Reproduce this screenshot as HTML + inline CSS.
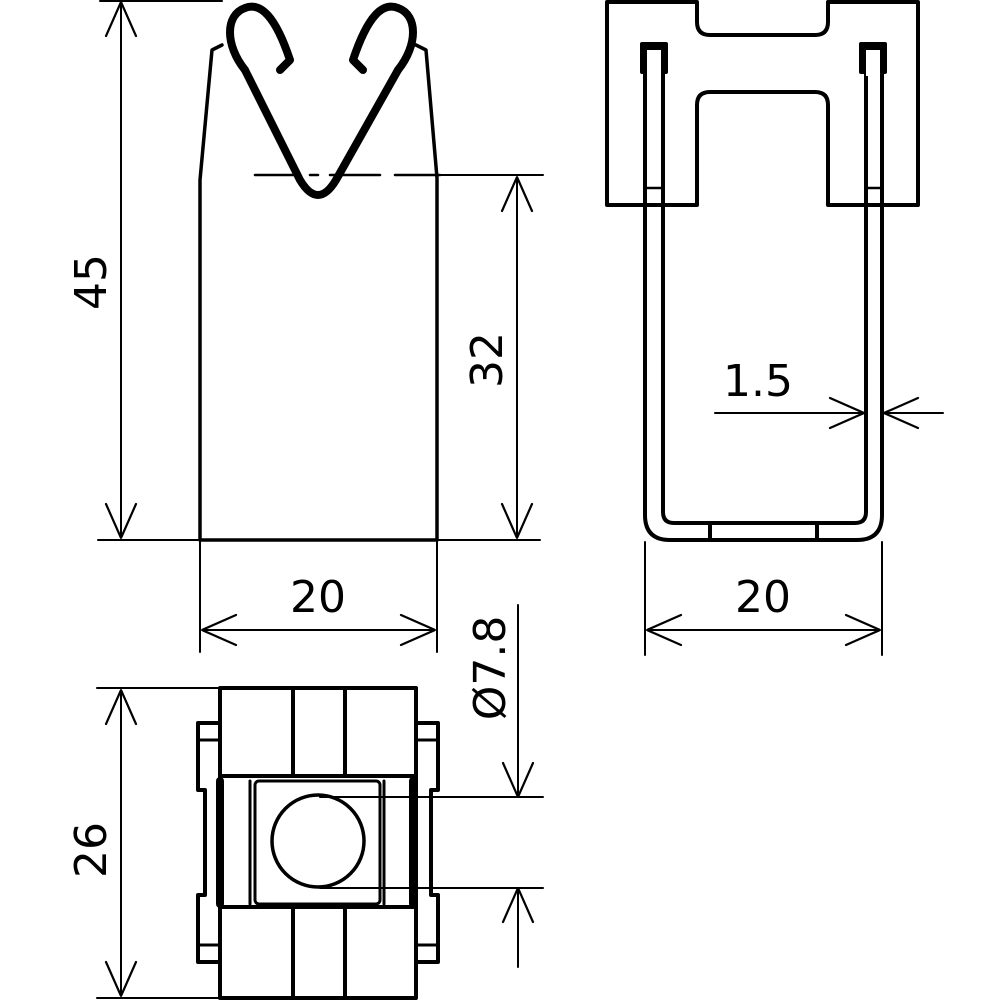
<!DOCTYPE html>
<html><head><meta charset="utf-8"><style>html,body{margin:0;padding:0;background:#fff}svg{display:block}</style></head>
<body>
<svg width="1000" height="1000" viewBox="0 0 1000 1000" xmlns="http://www.w3.org/2000/svg" fill="none" stroke="#000" stroke-linecap="round" stroke-linejoin="round">
<defs>
<marker id="a" viewBox="-36 0 36 36" refX="0" refY="18" markerWidth="36" markerHeight="36" markerUnits="userSpaceOnUse" orient="auto-start-reverse">
<path d="M-34 3 L0 18 L-34 33" stroke="#000" stroke-width="2.2" fill="none"/>
</marker>
</defs>

<g stroke-width="3.5">
<path d="M200 540 L200 180 L212 50 L222 45"/>
<path d="M437 540 L437 178 L426 50 L416 45"/>
<path d="M200 540 L437 540"/>
</g>
<g stroke-width="8">
<path d="M245 70 C225 45 225 15 245 8 C260 2 275 15 290 60 L280 70"/>
<path d="M398 70 C418 45 418 15 398 8 C383 2 368 15 353 60 L363 70"/>
<path d="M245 70 L300 180 Q318 210 336 180 L398 70"/>
</g>
<path d="M255 175 L298 175 M310 175 L318 175 M330 175 L380 175 M395 175 L440 175" stroke-width="2.5"/>

<g stroke-width="2">
<path d="M100 1 L222 1"/>
<path d="M98 540 L540 540"/>
<path d="M121 2 L121 538" marker-start="url(#a)" marker-end="url(#a)"/>
<path d="M397 175 L543 175"/>
<path d="M517 177 L517 538" marker-start="url(#a)" marker-end="url(#a)"/>
<path d="M200 542 L200 652 M437 542 L437 652"/>
<path d="M202 630 L435 630" marker-start="url(#a)" marker-end="url(#a)"/>
</g>

<g stroke-width="4">
<path d="M607 205 L607 2 L697 2 L697 22 Q697 35 710 35 L815 35 Q828 35 828 22 L828 2 L918 2 L918 205 L828 205 L828 105 Q828 92 815 92 L710 92 Q697 92 697 105 L697 205 Z"/>
<path d="M645 50 L645 515 Q645 540 670 540 L857 540 Q882 540 882 515 L882 50"/>
<path d="M663 50 L663 512 Q663 523 674 523 L855 523 Q866 523 866 512 L866 50"/>
<path d="M710 523 L710 540 M817 523 L817 540"/>
<rect x="640" y="42" width="28" height="32" rx="2" fill="#000" stroke="none"/>
<rect x="647" y="50" width="14" height="26" fill="#fff" stroke="none"/>
<rect x="859" y="42" width="28" height="32" rx="2" fill="#000" stroke="none"/>
<rect x="866" y="50" width="14" height="26" fill="#fff" stroke="none"/>
<path d="M645 188 L663 188 M866 188 L882 188" stroke-width="2.5"/>
</g>
<g stroke-width="2">
<path d="M645 542 L645 655 M882 542 L882 655"/>
<path d="M647 630 L880 630" marker-start="url(#a)" marker-end="url(#a)"/>
<path d="M715 413 L864 413" marker-end="url(#a)"/>
<path d="M943 413 L884 413" marker-end="url(#a)"/>
</g>

<g stroke-width="4">
<rect x="220" y="688" width="196" height="310"/>
<path d="M220 776 L416 776 M220 907 L416 907"/>
<path d="M293 688 L293 776 M345 688 L345 776 M293 907 L293 998 M345 907 L345 998"/>
<rect x="255" y="781" width="125" height="123" rx="4" stroke-width="3"/>
<path d="M250 781 L250 904 M384 781 L384 904" stroke-width="3"/>
<circle cx="318" cy="841" r="46" stroke-width="3.5"/>
<path d="M220 781 L220 904" stroke-width="8"/>
<path d="M413 781 L413 904" stroke-width="8"/>
<path d="M220 723 L198 723 L198 790 L205 790 L205 895 L198 895 L198 962 L220 962"/>
<path d="M198 740 L220 740 M198 945 L220 945" stroke-width="3"/>
<path d="M416 723 L438 723 L438 790 L431 790 L431 895 L438 895 L438 962 L416 962"/>
<path d="M438 740 L416 740 M438 945 L416 945" stroke-width="3"/>
</g>
<g stroke-width="2">
<path d="M97 688 L220 688 M97 998 L220 998"/>
<path d="M121 690 L121 996" marker-start="url(#a)" marker-end="url(#a)"/>
<path d="M320 797 L543 797 M320 888 L543 888"/>
<path d="M518 605 L518 797 M518 967 L518 888"/>
<path d="M518 760 L518 797" marker-end="url(#a)"/>
<path d="M518 925 L518 888" marker-end="url(#a)"/>
</g>

<g fill="#000" stroke="none" font-family="'DejaVu Sans','Liberation Sans',sans-serif" font-size="44">
<text x="318" y="612" text-anchor="middle">20</text>
<text x="763" y="612" text-anchor="middle">20</text>
<text x="758" y="396" text-anchor="middle">1.5</text>
<text transform="translate(106,282) rotate(-90)" text-anchor="middle">45</text>
<text transform="translate(502,360) rotate(-90)" text-anchor="middle">32</text>
<text transform="translate(106,850) rotate(-90)" text-anchor="middle">26</text>
<text transform="translate(505,668) rotate(-90)" text-anchor="middle">Ø7.8</text>
</g>
</svg>
</body></html>
